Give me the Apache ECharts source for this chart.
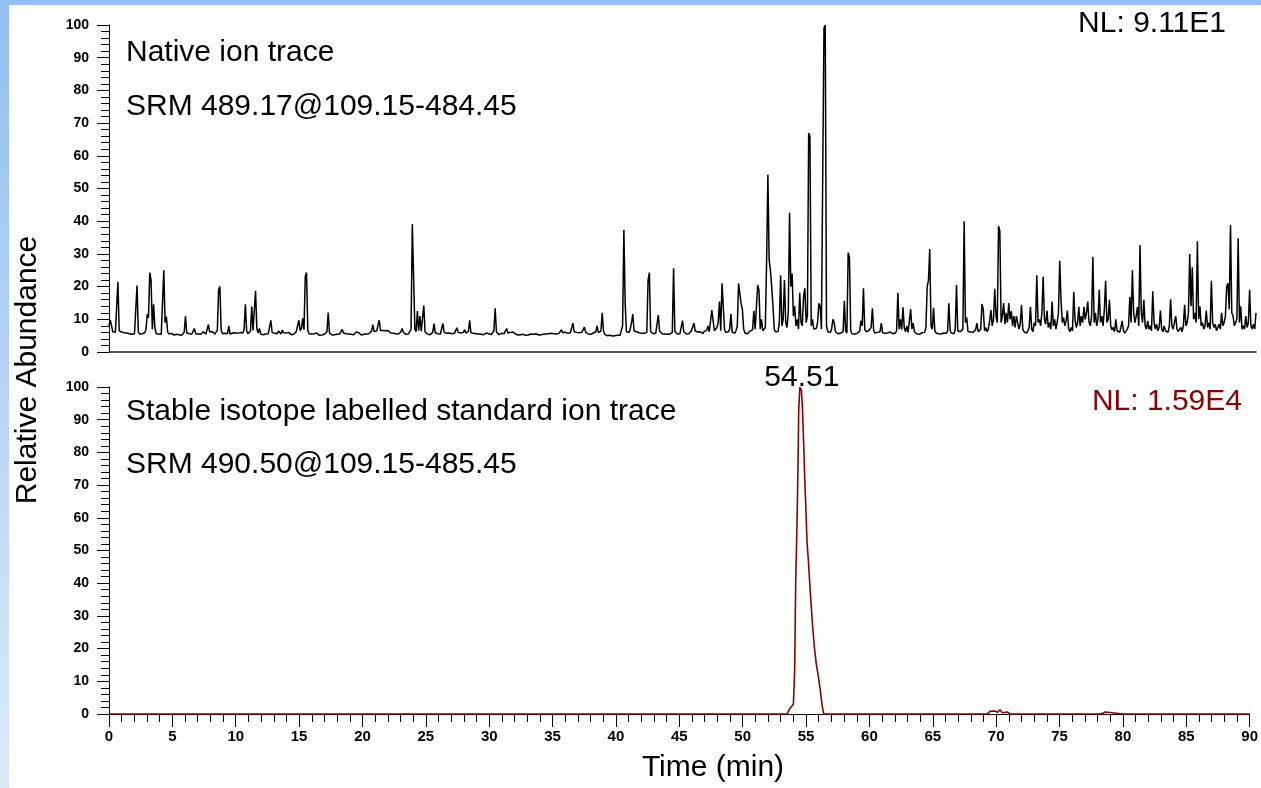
<!DOCTYPE html>
<html>
<head>
<meta charset="utf-8">
<script src="https://cdn.jsdelivr.net/npm/echarts@6/dist/echarts.min.js"></script>
<style>
  html, body { margin: 0; padding: 0; background: #fff; }
  #main { width: 1261px; height: 788px; }
</style>
</head>
<body>
<div id="main"></div>
<script>
// native ion trace, one reading every 0.1 min from 0 to 90 min (one row = one minute)
var nativeStep = 0.1;
var nativeAbund = [
  8,9.8,9.5,6.2,5.8,6,6.4,21.5,6.5,5.9,
  6.1,5.7,5.9,5.5,5.8,6,5.6,5.7,5.4,5.8,
  5.6,6,20.3,6.2,5.5,5.2,5.6,5.4,5.9,6.8,
  11.6,10.5,24.3,22,7,14.6,7.5,5.6,5.3,5.5,
  5.8,5.4,6,25,9,10.8,6.2,5.5,5.3,5.7,
  5.5,5.2,5.6,5.4,5,5.3,5.6,5.1,5.4,6,
  11,5.8,5.3,5.6,5.2,5.5,5.9,7.2,5.6,5.3,
  5.5,5.8,5.4,5.6,6.2,5.7,5.5,6,8.4,6.1,
  5.7,6.3,5.8,5.5,6,6.6,19,20,6.8,5.6,
  5.4,5.7,5.2,5.6,8,5.5,5.3,5.8,5.5,5.9,
  6.3,5.7,5.5,6,5.6,5.8,6.8,14.6,6.5,5.6,
  5.9,6.4,13.9,6.6,7,18.7,7.2,5.8,7.2,5.5,
  5.6,5.3,5.7,5.5,5.2,5.6,6.2,9.7,6,5.4,
  5.7,5.3,5.6,6.4,5.8,5.5,6.7,5.9,5.4,5.8,
  5.5,6,5.6,5.3,5.7,5.4,5.8,6.3,6.8,9.7,
  6.5,7.2,10.3,6.8,23,24.3,6.5,5.6,5.3,5.5,
  5.2,5.6,5.4,5.8,5.3,5.1,5.5,5.2,5.6,5.4,
  5.3,6.2,12.1,5.8,5.5,5.2,5.5,5.3,5.6,5.4,
  5.7,5.5,5.9,6.9,5.8,5.4,5.6,5.3,5.5,5.8,
  5.4,5.6,5.3,5.8,6.1,6.6,5.9,5.5,5.2,5.6,
  5.4,5.7,5.5,6,5.6,6.2,6.4,8.4,6.3,6.6,
  6.4,7,9.7,6.6,6.3,6.6,6.4,6.5,6.3,6.6,
  6.2,5.8,5.5,5.7,5.4,5.6,5.3,5.5,5.8,6.1,
  7.2,6,5.6,5.4,5.8,5.5,5.7,7,39.1,38.5,
  7,6.2,12.5,6.5,11,6.4,6,14.2,6.2,5.6,
  5.4,5.7,5.3,5.5,6,8.7,5.9,5.4,5.6,5.3,
  5.5,6.1,8.7,6,5.5,5.7,5.4,5.8,5.5,5.6,
  5.4,5.7,6.1,7.4,6,5.6,5.8,5.5,6,6.9,
  5.8,5.6,6.3,9.7,5.9,5.5,5.7,5.4,5.6,5.3,
  5.5,5.7,5.4,5.6,5.3,5.5,5.8,5.4,5.6,5.5,
  5.3,5.6,6.5,13.4,6.2,5.6,5.3,5.5,5.7,5.4,
  5.6,5.9,7.2,5.8,5.5,6,5.7,6.1,5.8,5.5,
  5.4,5.2,5.5,5.3,5.2,5.4,5.3,5.1,5.4,5.2,
  5.3,5.5,5.2,5.4,5.3,5.6,5.4,5.2,5.5,5.3,
  5.6,5.4,5.8,5.5,5.3,5.6,6,5.7,5.4,5.6,
  5.8,5.5,6,5.7,6.2,6.8,5.9,5.6,6.1,5.5,
  5.7,6.2,5.9,6.4,8.8,6.2,5.8,6,5.6,5.9,
  5.7,6,6.3,7.6,6.1,5.8,5.5,5.7,5.4,5.6,
  5.8,5.5,6.2,8,5.9,5.6,6.4,12,6.5,5.4,
  5.2,5,4.8,5.1,4.7,4.9,4.6,5,4.8,5.1,
  5.3,5.1,5.5,8,37.3,15,6.2,5.6,6,7,
  9,11.6,6.4,5.8,6.2,5.6,5.9,6.3,5.7,5.5,
  5.7,5.4,6,22,24.3,6.2,5.8,5.6,6,5.7,
  6.3,11.3,6.4,5.8,5.6,5.9,5.5,5.7,5.4,5.6,
  5.5,5.8,6,25.6,6.3,5.7,5.5,5.8,5.6,6.2,
  9.6,6.2,5.7,5.5,5.8,5.6,6,6.5,5.9,8.8,
  6.4,6.9,6.1,5.7,6.2,5.8,5.6,6.3,5.9,6.6,
  8,6.2,6.8,12.8,12.4,6.5,6,7.5,9,15.4,
  6.5,21,21.5,6.8,6,5.7,6.2,7,11.6,6,
  5.6,5.8,6.5,8,21,18,14.8,13,7,5.8,
  6.2,5.6,5.9,6.4,6,6.8,12.6,7,6.5,20.5,
  19,7,10,6.5,6,7.5,28,54.3,28,25,
  20,14,7,6.2,6.8,6.3,9,23.5,8,10,
  22,9,7.5,12,42.6,20,24,11,14,8,
  10,7,18.1,9,8,17,19.5,9,11,67,
  66,8,10,7,6.5,7.2,9,14.9,14,7,
  6.5,99,100,8,6.2,5.8,6,7,10,9,
  6.2,5.8,5.6,6,5.7,5.5,6.2,15.7,6.5,5.8,
  30.4,29,6.5,5.6,5.9,5.5,6,5.7,5.4,6.3,
  9.5,8,19.5,7,6.2,5.8,6.5,6.8,7.5,13.4,
  6.5,5.8,5.5,6,5.6,6.2,8.8,5.9,6.4,5.7,
  6.3,5.8,5.5,6.1,5.9,5.6,6.2,5.8,6.5,18.1,
  7,10,6.8,13.7,7.5,6.2,8,6,6.5,13.1,
  7,8.8,6.2,5.8,5.5,5.9,5.4,5.7,5.9,5.6,
  6,7.5,20,22,31.5,8,7,13.5,6.5,5.8,
  6.2,5.6,5.9,5.5,6.1,5.8,6.3,5.7,6.4,14.9,
  6.5,5.8,6,5.6,6.8,20.5,6.5,5.9,6.2,5.7,
  7,40,9,10.5,6.3,5.8,6.1,5.7,6,6.4,
  6.8,8.8,6.2,5.9,7,14.7,13,6.5,7.5,6.2,
  7,9.5,12.8,8,10,19.3,11,9,38.5,37,
  9,11,15,8.5,12,9,15,10,12.5,8,
  11,7.5,11,9,7,8.5,14.4,7,6.2,6.8,
  5.8,6.5,7.5,13.8,7,6.2,9,8,23.5,9,
  10,8,12,23,10,8.5,12.7,7.5,9,7,
  15.4,8,10,7,9,12,27.9,16,9,10.5,
  8,9.5,12.7,7,6.2,7.5,6.5,18.4,10,7.5,
  9,13.8,8,11,9,13.8,10,12,15.4,9,
  8,11,29.1,9,12,8,10,19,9,11,
  8,13,21.8,9,10,16,8,6.8,7.5,6.2,
  10,6.5,7,6,7.5,9.5,6.5,5.8,6.4,7,
  8,16.9,9,25,12,9,11,13.8,8,32.7,
  12,9,16,8,7,9.5,7,8,6.5,18.6,
  9,7,8.5,6.5,7.5,12.7,7,6.2,8,6.5,
  7,6,8,16.1,8,7,6.5,11,7,6.3,
  6.8,7.5,6.2,8,14.4,8,9,12,30,14,
  25.9,10,12,9,33.9,10,14,8,9,7,
  8,12.7,7.5,9,7,21.8,9,7.5,8.5,6.5,
  7,8.5,7,12,8,9,11,20,21,13,
  38.8,12,11,8,9,10,34.8,9,14,7,
  8,7,11,7.5,9,19,8,7,8.5,7,
  12
];

// stable isotope labelled standard trace (time in min, relative abundance)
var stdTime = [0, 10, 20, 30, 40, 50, 53.5, 53.7, 54.0, 54.1, 54.18, 54.29, 54.37, 54.42, 54.51,
  54.63, 54.71, 54.81, 54.89, 54.97, 55.08, 55.18, 55.34, 55.5, 55.65, 55.8, 55.97, 56.12,
  56.28, 56.4, 60, 65, 69.3, 69.5, 69.9, 70.1, 70.3, 70.5, 70.9, 71.1, 72.8, 72.9, 73.0,
  76.1, 76.2, 76.3, 78.2, 78.3, 78.4, 78.6, 78.7, 80, 85, 88.3, 88.4, 88.5, 89.6, 89.7,
  89.8, 90];
var stdAbund = [0, 0, 0, 0, 0, 0, 0, 1.6, 3, 13.5, 40, 59, 77.7, 93, 100,
  99, 94, 82.8, 72.6, 64.4, 52.2, 47, 36.9, 27.7, 20.6, 15.5, 11.4, 7.3,
  2.2, 0, 0, 0, 0, 0.8, 0.9, 0.5, 1.3, 0.4, 0.6, 0, 0, 0.4, 0,
  0, 0.4, 0, 0, 0.6, 0.2, 0.6, 0, 0, 0, 0, 0.4, 0, 0, 0.4,
  0, 0];

var peakLabel = { time: 54.51, text: '54.51' };

var fontFam = '"Liberation Sans", Arial, sans-serif';

var nativeData = nativeAbund.map(function (v, i) {
    return [+(i * nativeStep).toFixed(1), v];
});
var stdData = stdTime.map(function (t, i) {
    return [t, stdAbund[i]];
});

function yAxisFor(idx) {
    return {
        type: 'value',
        gridIndex: idx,
        min: 0,
        max: 100,
        interval: 10,
        axisLine: { show: true, lineStyle: { color: '#000', width: 1 } },
        axisTick: { show: true, length: 12, lineStyle: { color: '#000', width: 1 } },
        minorTick: { show: true, splitNumber: 5, length: 8, lineStyle: { color: '#000', width: 1 } },
        axisLabel: { fontSize: 14, fontWeight: 'bold', color: '#000', margin: 20, fontFamily: fontFam },
        splitLine: { show: false },
        minorSplitLine: { show: false }
    };
}

function txt(text, x, y, size, color, align, rot) {
    return {
        type: 'text',
        x: x,
        y: y,
        rotation: rot || 0,
        z: 10,
        style: {
            text: text,
            fontSize: size,
            fontFamily: fontFam,
            fill: color,
            align: align,
            verticalAlign: 'middle'
        }
    };
}

var myChart = echarts.init(document.getElementById('main'));

var option = {
    animation: false,
    backgroundColor: '#fff',
    graphic: [
        {
            type: 'rect', z: -5, silent: true,
            shape: { x: 0, y: 0, width: 1261, height: 788 },
            style: {
                fill: new echarts.graphic.LinearGradient(0, 0, 0, 1, [
                    { offset: 0, color: '#92c0ef' },
                    { offset: 1, color: '#dde9fb' }
                ])
            }
        },
        {
            type: 'rect', z: -4, silent: true,
            shape: { x: 9, y: 5, width: 1252, height: 783 },
            style: { fill: '#fff' }
        },
        txt('Native ion trace', 126, 53, 30, '#000', 'left'),
        txt('SRM 489.17@109.15-484.45', 126, 107, 30, '#000', 'left'),
        txt('NL: 9.11E1', 1226, 24, 30, '#000', 'right'),
        txt('Stable isotope labelled standard ion trace', 126, 412, 30, '#000', 'left'),
        txt('SRM 490.50@109.15-485.45', 126, 465, 30, '#000', 'left'),
        txt('NL: 1.59E4', 1242, 402, 30, '#8b0000', 'right'),
        txt('Time (min)', 713, 768, 30, '#000', 'center'),
        txt('Relative Abundance', 28, 370, 30, '#000', 'center', Math.PI / 2)
    ],
    grid: [
        { left: 109, right: 5, top: 25, height: 327 },
        { left: 109, right: 5, top: 387, height: 327 }
    ],
    xAxis: [
        {
            type: 'value',
            gridIndex: 0,
            min: 0,
            max: 90,
            interval: 5,
            axisLine: { show: true, lineStyle: { color: '#222', width: 1.5 } },
            axisTick: { show: false },
            axisLabel: { show: false },
            splitLine: { show: false }
        },
        {
            type: 'value',
            gridIndex: 1,
            min: 0,
            max: 90,
            interval: 5,
            axisLine: { show: true, lineStyle: { color: '#000', width: 1 } },
            axisTick: { show: true, length: 13, lineStyle: { color: '#000', width: 1 } },
            minorTick: { show: true, splitNumber: 5, length: 8, lineStyle: { color: '#000', width: 1 } },
            axisLabel: { fontSize: 15, fontWeight: 'bold', color: '#000', margin: 15, fontFamily: fontFam },
            splitLine: { show: false },
            minorSplitLine: { show: false }
        }
    ],
    yAxis: [yAxisFor(0), yAxisFor(1)],
    series: [
        {
            name: 'Native',
            type: 'line',
            xAxisIndex: 0,
            yAxisIndex: 0,
            z: 5,
            data: nativeData,
            showSymbol: false,
            symbol: 'none',
            lineStyle: { color: '#000', width: 1.5 },
            itemStyle: { color: '#000' }
        },
        {
            name: 'Standard',
            type: 'line',
            xAxisIndex: 1,
            yAxisIndex: 1,
            z: 5,
            data: stdData,
            showSymbol: false,
            symbol: 'none',
            lineStyle: { color: '#8b0000', width: 1.6 },
            itemStyle: { color: '#8b0000' },
            markPoint: {
                symbol: 'circle',
                symbolSize: 0,
                label: {
                    show: true,
                    position: 'top',
                    distance: 0,
                    offset: [2, 6],
                    formatter: peakLabel.text,
                    fontSize: 30,
                    color: '#000',
                    fontFamily: fontFam
                },
                data: [{ coord: [peakLabel.time, 100] }]
            }
        }
    ]
};

myChart.setOption(option);
</script>
</body>
</html>
